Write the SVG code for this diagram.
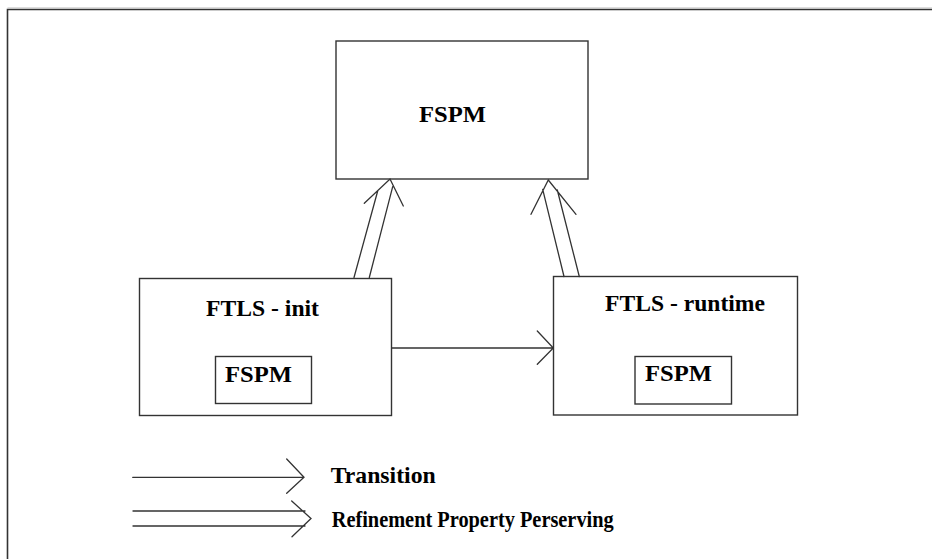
<svg xmlns="http://www.w3.org/2000/svg" width="932" height="559" viewBox="0 0 932 559">
<style>
.box{fill:#fff;stroke:#333;stroke-width:1.4}
.ln{fill:none;stroke:#333;stroke-width:1.3;stroke-linecap:round;stroke-linejoin:miter}
.t{font-family:"Liberation Serif","Times New Roman",serif;font-weight:bold;font-size:24px;fill:#000}
</style>
<rect width="932" height="559" fill="#fff"/>
<path d="M7.5,570 V9.5 H945" fill="none" stroke="#333" stroke-width="1.6"/>
<path d="M7.5,8 H945" fill="none" stroke="#bbb" stroke-width="1"/>

<g id="fspm-top">
<rect class="box" x="336" y="41" width="252" height="138"/>
<text class="t" x="419" y="122" textLength="67" lengthAdjust="spacingAndGlyphs">FSPM</text>
</g>

<g id="ftls-init">
<rect class="box" x="139.5" y="278.5" width="252" height="137"/>
<text class="t" x="206" y="315.5" textLength="113" lengthAdjust="spacingAndGlyphs">FTLS - init</text>
<rect class="box" x="215.5" y="356.5" width="96" height="47"/>
<text class="t" x="225" y="381.5" textLength="67" lengthAdjust="spacingAndGlyphs">FSPM</text>
</g>

<g id="ftls-runtime">
<rect class="box" x="553.5" y="276.5" width="244" height="138.5"/>
<text class="t" x="605" y="310.5" textLength="160" lengthAdjust="spacingAndGlyphs">FTLS - runtime</text>
<rect class="box" x="635" y="356.5" width="96.5" height="47.5"/>
<text class="t" x="645" y="380.5" textLength="67" lengthAdjust="spacingAndGlyphs">FSPM</text>
</g>

<g id="connectors">
<path class="ln" d="M354,277.5 L377.7,191 M369.3,277.5 L392.7,186.7 M364.3,203.3 L390,179 L403.3,206"/>
<path class="ln" d="M564,276.5 L542.7,189.3 M579.3,276.5 L557.3,190 M531,214.3 L548.3,180 L576,214.3"/>
<path class="ln" d="M391.7,348 H553.3 M537.3,331 L553.3,348 L537.3,364.3"/>
</g>

<g id="legend">
<path class="ln" d="M132.7,477.3 H304 M286.7,459 L304,477.3 L286.7,493.3"/>
<text class="t" x="330.7" y="483.3" textLength="105" lengthAdjust="spacingAndGlyphs">Transition</text>
<path class="ln" d="M133,511 H305 M133,526 H305 M291.7,501 L311,518.5 L292,536.7"/>
<text class="t" x="331.7" y="527" textLength="282" lengthAdjust="spacingAndGlyphs">Refinement Property Perserving</text>
</g>
</svg>
